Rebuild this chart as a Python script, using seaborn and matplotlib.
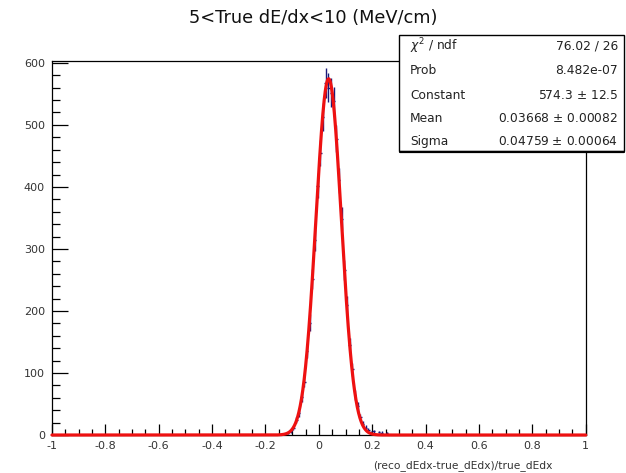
import numpy as np
import pandas as pd
import matplotlib
matplotlib.use("Agg")
import matplotlib.pyplot as plt
from matplotlib.ticker import MultipleLocator
import seaborn as sns

# Histogram of the relative dE/dx residual, bins of width 0.01
bin_low = -0.14
bin_width = 0.01
counts = [2, 0, 3, 6, 11, 24, 35, 61, 86, 135,
          181, 252, 314, 402, 455, 512, 568, 560, 552, 538,
          478, 411, 349, 266, 210, 145, 106, 64, 46, 29,
          18, 12, 8, 4, 6, 0, 5, 4, 0, 3]

# Gaussian fit results
fit_const, fit_const_err = 574.3, 12.5
fit_mean, fit_mean_err = 0.03668, 0.00082
fit_sigma, fit_sigma_err = 0.04759, 0.00064
chi2_text, prob_text = "76.02 / 26", "8.482e-07"

title = "5<True dE/dx<10 (MeV/cm)"
xlabel = "(reco_dEdx-true_dEdx)/true_dEdx"
xticks = [-1, -0.8, -0.6, -0.4, -0.2, 0, 0.2, 0.4, 0.6, 0.8, 1]
xtick_labels = ["-1", "-0.8", "-0.6", "-0.4", "-0.2", "0", "0.2", "0.4", "0.6", "0.8", "1"]
yticks = [0, 100, 200, 300, 400, 500, 600]

sns.set_style("white")
plt.rcParams["font.family"] = ["DejaVu Sans"]

fig = plt.figure(figsize=(6.26, 4.73), dpi=100)
ax = fig.add_axes([0.083, 0.0803, 0.8527, 0.7907])

counts_arr = np.array(counts, dtype=float)
centers = bin_low + bin_width * (np.arange(len(counts_arr)) + 0.5)
hist = pd.DataFrame({"x": centers, "n": counts_arr})
nz = hist[hist.n > 0]

# data points with Poisson errors and bin-width bars
ax.errorbar(nz.x, nz.n, xerr=bin_width / 2, yerr=np.sqrt(nz.n),
            fmt="none", ecolor="#1a1a7a", elinewidth=1.0, capsize=0, zorder=2)

# fitted Gaussian over the full axis range
xf = np.linspace(-1, 1, 2001)
yf = fit_const * np.exp(-0.5 * ((xf - fit_mean) / fit_sigma) ** 2)
fit = pd.DataFrame({"x": xf, "y": yf})
sns.lineplot(data=fit, x="x", y="y", ax=ax, color="#ee1111", linewidth=2.3,
             zorder=3, clip_on=False)

ax.set_xlim(-1, 1)
ax.set_ylim(0, 603)
ax.set_xticks(xticks)
ax.set_xticklabels(xtick_labels)
ax.set_yticks(yticks)
ax.xaxis.set_minor_locator(MultipleLocator(0.05))
ax.yaxis.set_minor_locator(MultipleLocator(20))
ax.tick_params(which="both", bottom=True, left=True, top=False, right=False,
               direction="in", color="black", width=0.9)
ax.tick_params(axis="x", which="major", length=8, labelsize=8, pad=4,
               labelcolor="#333333")
ax.tick_params(axis="x", which="minor", length=4)
ax.tick_params(axis="y", which="major", length=11.5, labelsize=8, pad=5,
               labelcolor="#333333")
ax.tick_params(axis="y", which="minor", length=5.8)
for s in ax.spines.values():
    s.set_color("black")
    s.set_linewidth(0.9)
ax.set_xlabel("")
ax.set_ylabel("")

fig.text(0.5, 0.962, title, ha="center", va="center", fontsize=12.8, color="#111111")
fig.text(0.883, 0.016, xlabel, ha="right", va="center", fontsize=7.7, color="#333333")

# fit statistics box
bx0, bx1 = 399 / 626, 624 / 626
by0, by1 = 1 - 151 / 473, 1 - 35 / 473
box = plt.Rectangle((bx0, by0), bx1 - bx0, by1 - by0, transform=fig.transFigure,
                    facecolor="white", edgecolor="black", linewidth=1.0, zorder=10)
fig.add_artist(box)
fig.add_artist(plt.Line2D([bx0 + 0.002, bx1], [by0 - 0.002, by0 - 0.002],
                          transform=fig.transFigure, color="black", linewidth=1.6, zorder=10))
rows = [
    (r"$\chi^2$ / ndf", chi2_text),
    ("Prob", prob_text),
    ("Constant", f"{fit_const} $\\pm$ {fit_const_err}"),
    ("Mean", f"{fit_mean:.5f} $\\pm$ {fit_mean_err:.5f}"),
    ("Sigma", f"{fit_sigma:.5f} $\\pm$ {fit_sigma_err:.5f}"),
]
row_y = [46, 71, 95, 118, 141]
for (lab, val), yp in zip(rows, row_y):
    fig.text(410 / 626, 1 - yp / 473, lab, ha="left", va="center", fontsize=8.8,
             color="#222222", zorder=11)
    fig.text(618 / 626, 1 - yp / 473, val, ha="right", va="center", fontsize=8.8,
             color="#222222", zorder=11)

fig.savefig("out.png", dpi=100, facecolor="white")
